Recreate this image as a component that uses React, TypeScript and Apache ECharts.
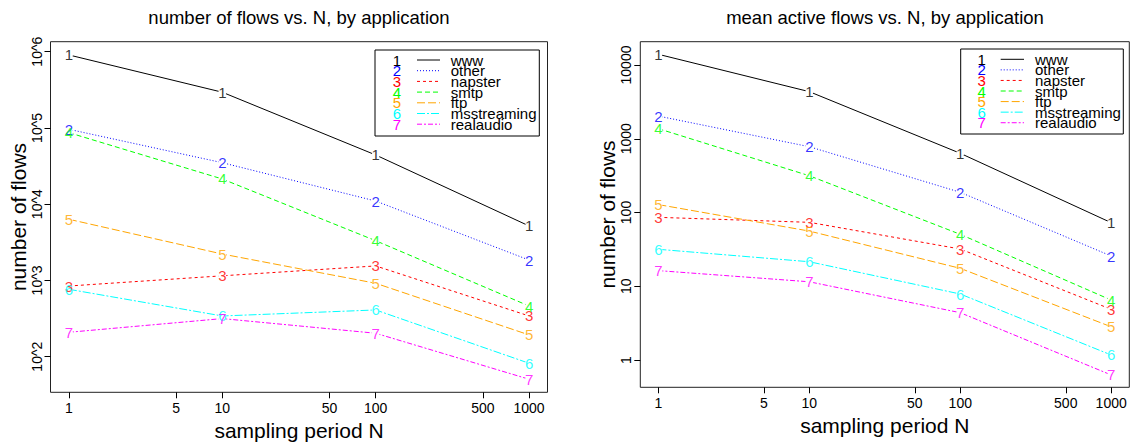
import { useEffect, useRef } from 'react';
import * as echarts from 'echarts';

// ---- data ----
const periods = [1, 10, 100, 1000];
const appNames = ['www', 'other', 'napster', 'smtp', 'ftp', 'msstreaming', 'realaudio'];
const appColors = ['#000000', '#0000FF', '#FF0000', '#00FF00', '#FFA500', '#00FFFF', '#FF00FF'];
const appDashes: (number[] | 'solid')[] = ['solid', [1, 2], [3, 3], [5, 3], [8, 3], [8, 2, 2, 2], [5, 2, 2, 2]];

// number of flows
const flowsWww = [906000, 294000, 44200, 5180];
const flowsOther = [96000, 35000, 11000, 1850];
const flowsNapster = [845, 1150, 1550, 342];
const flowsSmtp = [86700, 21400, 3320, 462];
const flowsFtp = [6340, 2220, 918, 193];
const flowsMsstreaming = [765, 342, 410, 82];
const flowsRealaudio = [209, 316, 203, 50.6];

// mean active flows
const activeWww = [13960, 4350, 635, 72.8];
const activeOther = [2030, 780, 188, 25.7];
const activeNapster = [86, 73.6, 32, 4.87];
const activeSmtp = [1370, 315, 50.6, 6.5];
const activeFtp = [128, 56, 17.5, 2.82];
const activeMsstreaming = [31.7, 21.5, 7.85, 1.17];
const activeRealaudio = [16.3, 11.5, 4.38, 0.627];

const xTicks = [1, 5, 10, 50, 100, 500, 1000];
const leftYTicks = [100, 1000, 10000, 100000, 1000000];
const rightYTicks = [1, 10, 100, 1000, 10000];

const leftTitle = 'number of flows vs. N, by application';
const rightTitle = 'mean active flows vs. N, by application';
const xName = 'sampling period N';
const yName = 'number of flows';

const FONT = '"Liberation Sans", Arial, Helvetica, sans-serif';

export default function App() {
  const ref = useRef<HTMLDivElement>(null);

  useEffect(() => {
    if (!ref.current) return;
    const chart = echarts.init(ref.current, undefined, { renderer: 'svg' });

    const leftData = [flowsWww, flowsOther, flowsNapster, flowsSmtp, flowsFtp, flowsMsstreaming, flowsRealaudio];
    const rightData = [activeWww, activeOther, activeNapster, activeSmtp, activeFtp, activeMsstreaming, activeRealaudio];

    const grids = [
      { left: 50.5, top: 41.7, width: 497, height: 350.6 },
      { left: 640.3, top: 41.7, width: 489, height: 345.6 },
    ];

    const xMin = Math.pow(10, -0.12);
    const xMax = Math.pow(10, 3.12);

    const makeX = (gi: number) => ({
      type: 'log',
      logBase: 10,
      gridIndex: gi,
      min: xMin,
      max: xMax,
      axisLine: { show: false },
      axisTick: { show: true, customValues: xTicks, length: 6, lineStyle: { color: '#000', width: 1 } },
      axisLabel: {
        customValues: xTicks,
        fontSize: 14,
        color: '#000',
        fontFamily: FONT,
        margin: 9,
        formatter: (v: number) => String(Math.round(v)),
      },
      splitLine: { show: false },
      minorTick: { show: false },
      name: xName,
      nameLocation: 'middle',
      nameGap: 22,
      nameTextStyle: { fontSize: 21, color: '#000', fontFamily: FONT },
    });

    const makeY = (gi: number, ticks: number[], min: number, max: number, fmt: (v: number) => string, gap: number) => ({
      type: 'log',
      logBase: 10,
      gridIndex: gi,
      min,
      max,
      axisLine: { show: false },
      axisTick: { show: true, customValues: ticks, length: 6, lineStyle: { color: '#000', width: 1 } },
      axisLabel: {
        customValues: ticks,
        fontSize: 14,
        color: '#000',
        fontFamily: FONT,
        rotate: 90,
        margin: 7,
        formatter: fmt,
      },
      splitLine: { show: false },
      name: yName,
      nameLocation: 'middle',
      nameGap: gap,
      nameTextStyle: { fontSize: 21, color: '#000', fontFamily: FONT },
    });

    const series: any[] = [];
    const addSeries = (data: number[][], gi: number) => {
      data.forEach((vals, i) => {
        const pts = periods.map((p, j) => [p, vals[j]]);
        series.push({
          type: 'line',
          name: appNames[i],
          xAxisIndex: gi,
          yAxisIndex: gi,
          data: pts,
          symbol: 'circle',
          symbolSize: 8,
          showSymbol: true,
          itemStyle: { color: '#ffffff', borderWidth: 0 },
          lineStyle: { color: appColors[i], width: 1, type: appDashes[i] },
          silent: true,
          z: 2,
        });
      });
      data.forEach((vals, i) => {
        const pts = periods.map((p, j) => [p, vals[j]]);
        series.push({
          type: 'scatter',
          name: appNames[i] + ' label',
          xAxisIndex: gi,
          yAxisIndex: gi,
          data: pts,
          symbol: 'circle',
          symbolSize: 1,
          itemStyle: { color: 'transparent' },
          label: {
            show: true,
            position: 'inside',
            formatter: String(i + 1),
            color: appColors[i],
            fontSize: 15,
            fontFamily: FONT,
          },
          silent: true,
          z: 3,
        });
      });
    };
    addSeries(leftData, 0);
    addSeries(rightData, 1);

    const graphics: any[] = [];
    const addTitle = (text: string, x: number, y: number) => {
      graphics.push({
        type: 'text',
        x,
        y,
        style: {
          text,
          fill: '#000',
          fontSize: 18.5,
          fontFamily: FONT,
          align: 'center',
          textAlign: 'center',
          verticalAlign: 'middle',
          textVerticalAlign: 'middle',
        },
      });
    };
    addTitle(leftTitle, 299, 17);
    addTitle(rightTitle, 885, 17);

    const addLegend = (bx: number, by: number, bw: number, bh: number, digitX: number, lineX0: number, lineX1: number, textX: number, rowY0: number, rowStep: number) => {
      graphics.push({
        type: 'rect',
        shape: { x: bx, y: by, width: bw, height: bh },
        style: { fill: '#fff', stroke: '#000', lineWidth: 1 },
        z: 10,
      });
      appNames.forEach((name, i) => {
        const y = rowY0 + i * rowStep;
        graphics.push({
          type: 'text',
          x: digitX,
          y,
          z: 11,
          style: {
            text: String(i + 1),
            fill: appColors[i],
            fontSize: 15,
            fontFamily: FONT,
            align: 'center',
            textAlign: 'center',
            verticalAlign: 'middle',
            textVerticalAlign: 'middle',
          },
        });
        graphics.push({
          type: 'line',
          z: 11,
          shape: { x1: lineX0, y1: y, x2: lineX1, y2: y },
          style: {
            stroke: appColors[i],
            lineWidth: 1,
            lineDash: appDashes[i] === 'solid' ? null : appDashes[i],
          },
        });
        graphics.push({
          type: 'text',
          x: textX,
          y,
          z: 11,
          style: {
            text: name,
            fill: '#000',
            fontSize: 15,
            fontFamily: FONT,
            align: 'left',
            textAlign: 'left',
            verticalAlign: 'middle',
            textVerticalAlign: 'middle',
          },
        });
      });
    };
    addLegend(375, 50, 164.3, 86, 397, 417, 440, 450.7, 60, 10.7);
    addLegend(960.7, 49, 162.6, 85, 981.7, 1000.7, 1024, 1035, 59.3, 10.57);

    chart.setOption({
      animation: false,
      textStyle: { fontFamily: FONT },
      grid: grids.map((g) => ({
        ...g,
        show: true,
        borderColor: '#222',
        borderWidth: 1,
        backgroundColor: 'transparent',
        containLabel: false,
        outerBoundsMode: 'none',
      })),
      xAxis: [makeX(0), makeX(1)],
      yAxis: [
        makeY(0, leftYTicks, Math.pow(10, 1.533), Math.pow(10, 6.131), (v: number) => '10^' + Math.round(Math.log10(v)), 20),
        makeY(1, rightYTicks, Math.pow(10, -0.37), Math.pow(10, 4.316), (v: number) => String(Math.round(v)), 22),
      ],
      series,
      graphic: graphics,
    });

    return () => {
      chart.dispose();
    };
  }, []);

  return (
    <div
      ref={ref}
      style={{ position: 'fixed', left: 0, top: 0, width: 1131, height: 442, background: '#fff' }}
    />
  );
}
